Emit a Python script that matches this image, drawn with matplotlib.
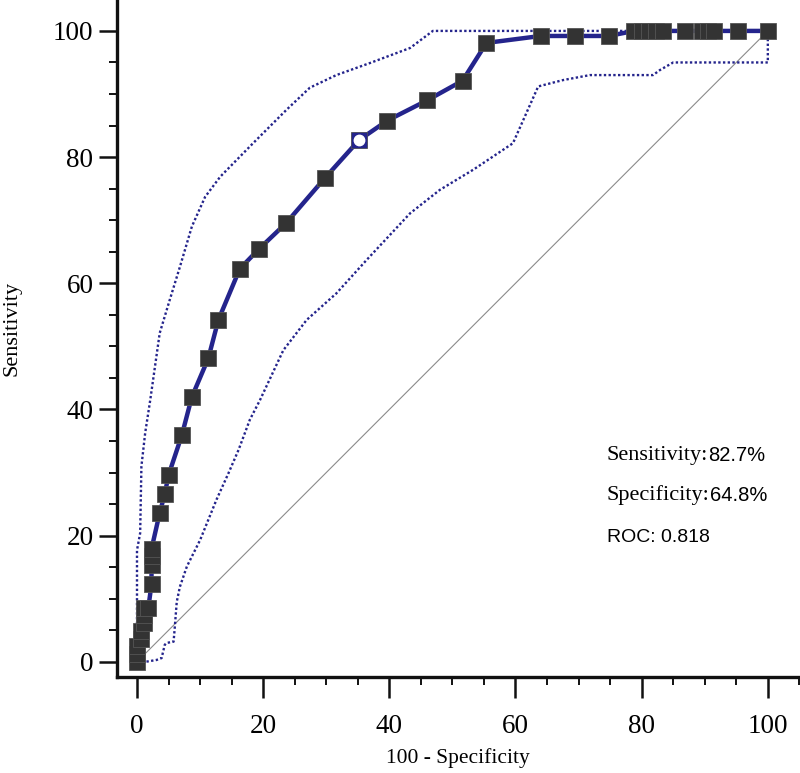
import matplotlib
matplotlib.use("Agg")
import matplotlib.pyplot as plt
from matplotlib.ticker import MultipleLocator

# ----------------------------
# ROC POINTS (100 - specificity, sensitivity)
# ----------------------------
fpr = [0, 0, 0, 0.7, 0.7, 1.1, 1.1, 1.1, 1.8, 2.3, 2.3, 2.3, 2.3,
       3.6, 4.4, 5.0, 7.1, 8.7, 11.3, 12.9, 16.3, 19.3, 23.6, 29.8,
       35.2, 39.7, 46.0, 51.6, 55.4, 64.0, 69.4, 74.8,
       78.8, 80.0, 81.2, 82.3, 83.4, 86.8, 89.5, 90.5, 91.4, 95.3, 100]
tpr = [0, 1.2, 2.5, 3.7, 4.9, 6.2, 7.4, 8.6, 8.6, 12.3, 15.4, 16.7, 17.9,
       23.6, 26.6, 29.6, 35.9, 42.0, 48.1, 54.2, 62.3, 65.4, 69.5, 76.7,
       82.7, 85.8, 89.0, 92.1, 98.1, 99.2, 99.2, 99.2,
       100, 100, 100, 100, 100, 100, 100, 100, 100, 100, 100]

# cut-off point
cut_x = [35.2]
cut_y = [82.7]

# upper confidence bound
up_x = [0, 0, 0, 0.5, 0.7, 1.3, 2.1, 2.85, 3.6, 5.2, 6.8, 8.7, 10.8, 13.2,
        18.4, 23.7, 27.4, 31.6, 36.9, 43.3, 46.9, 100]
up_y = [0, 8.7, 17.7, 20.4, 31.0, 36.3, 41.5, 46.8, 52.1, 57.4, 62.6, 69.0,
        73.7, 76.9, 82.2, 87.5, 91.0, 93.0, 94.9, 97.3, 100, 100]

# lower confidence bound
lo_x = [0, 1.3, 3.1, 3.9, 4.4, 4.7, 5.8, 6.0, 6.3, 6.8, 7.9, 10.0, 12.6,
        14.5, 16.1, 17.9, 19.5, 23.2, 26.9, 31.6, 36.4, 43.3, 48.0, 53.3,
        59.6, 63.6, 67.5, 71.8, 81.8, 82.9, 85.0, 100, 100]
lo_y = [0, 0, 0.3, 0.6, 2.7, 3.0, 3.2, 5.6, 9.5, 11.9, 15.1, 19.3, 25.7,
        29.9, 33.6, 38.4, 41.5, 49.4, 54.2, 58.4, 63.7, 71.1, 74.8, 78.0,
        82.2, 91.2, 92.2, 93.0, 93.0, 93.8, 95.0, 95.0, 100]

NAVY = "#24248c"
SERIF = "Liberation Serif"
SANS = "Liberation Sans"

fig = plt.figure(figsize=(8, 7.73), dpi=100)
ax = fig.add_axes([0.14625, 0.1242, 0.85375, 0.8758])

# reference diagonal
ax.plot([0, 100], [0, 100], color="#8a8a8a", lw=0.8, zorder=1)

# confidence bounds
ax.plot(up_x, up_y, color=NAVY, lw=1.7, ls=(0, (1, 1)), zorder=2)
ax.plot(lo_x, lo_y, color=NAVY, lw=1.7, ls=(0, (1, 1)), zorder=2)

# ROC curve
ax.plot(fpr, tpr, color=NAVY, lw=3.2, zorder=3)
ax.plot(fpr, tpr, ls="none", marker="s", ms=11.3, mfc="#333333",
        mec="#555555", mew=0.6, zorder=4)

# cut-off marker
ax.plot(cut_x, cut_y, ls="none", marker="s", ms=10, mfc=NAVY, mec=NAVY, zorder=5)
ax.plot(cut_x, cut_y, ls="none", marker="o", ms=7.5, mfc="white", mec="white", zorder=6)

ax.set_xlim(-3.17, 105.1)
ax.set_ylim(-2.4, 104.9)

for side in ("top", "right"):
    ax.spines[side].set_visible(False)
for side in ("left", "bottom"):
    ax.spines[side].set_linewidth(2.4)
    ax.spines[side].set_color("#111111")

ax.xaxis.set_major_locator(MultipleLocator(20))
ax.xaxis.set_minor_locator(MultipleLocator(5))
ax.yaxis.set_major_locator(MultipleLocator(20))
ax.yaxis.set_minor_locator(MultipleLocator(5))
ax.tick_params(which="major", width=1.8, color="#111111",
               labelsize=19.5, labelfontfamily=SERIF)
ax.tick_params(which="minor", length=6, width=1.4, color="#111111")
ax.tick_params(axis="x", which="major", length=15, pad=12)
ax.tick_params(axis="y", which="major", length=13, pad=4)

ax.set_xlabel("100 - Specificity", fontfamily=SERIF, fontsize=15.5, va="center")
ax.set_ylabel("Sensitivity", fontfamily=SERIF, fontsize=16, va="center")
ax.xaxis.set_label_coords(0.499, -0.12)
ax.yaxis.set_label_coords(-0.154, 0.515)

# annotation text
t1 = ax.text(74.5, 32, "Sensitivity:", fontfamily=SERIF, fontsize=16,
             va="baseline", ha="left")
ax.annotate("82.7%", xy=(1, 0), xycoords=t1, va="bottom", ha="left",
            fontfamily=SANS, fontsize=14.5)
t2 = ax.text(74.5, 25.6, "Specificity:", fontfamily=SERIF, fontsize=16,
             va="baseline", ha="left")
ax.annotate("64.8%", xy=(1, 0), xycoords=t2, va="bottom", ha="left",
            fontfamily=SANS, fontsize=14.5)
ax.text(74.5, 19.0, "ROC: 0.818", fontfamily=SANS, fontsize=14,
        va="baseline", ha="left")

fig.savefig("out.png", dpi=100)
